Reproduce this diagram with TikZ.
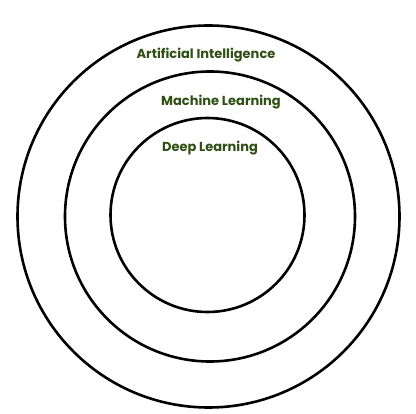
\documentclass[tikz,border=0pt]{standalone}
\usepackage{fontspec}
\setmainfont{Poppins}
\usepackage{tikz}
\definecolor{labelgreen}{HTML}{2F4F14}
\tikzset{ring/.style={line width=2.6pt, draw=black}, lbl/.style={text=labelgreen, font=\fontsize{13}{15}\selectfont\bfseries, inner sep=0pt}}

\begin{document}
\begin{tikzpicture}[x=1pt, y=-1pt]
			%%%%% START %%%%%
			
			\useasboundingbox (0, 0) rectangle (416, 414);
			
			\draw[ring] (208.5, 216.5) circle (191);
			\draw[ring] (210, 216.5) circle (145);
			\draw[ring] (207.5, 215) circle (97);
			
			\node[lbl] (ai) at (206, 55) {Artificial Intelligence};
			\node[lbl] (ml) at (221, 102) {Machine Learning};
			\node[lbl] (dl) at (210, 148) {Deep Learning};
			
			%%%%% END %%%%%
		\end{tikzpicture}
\end{document}
